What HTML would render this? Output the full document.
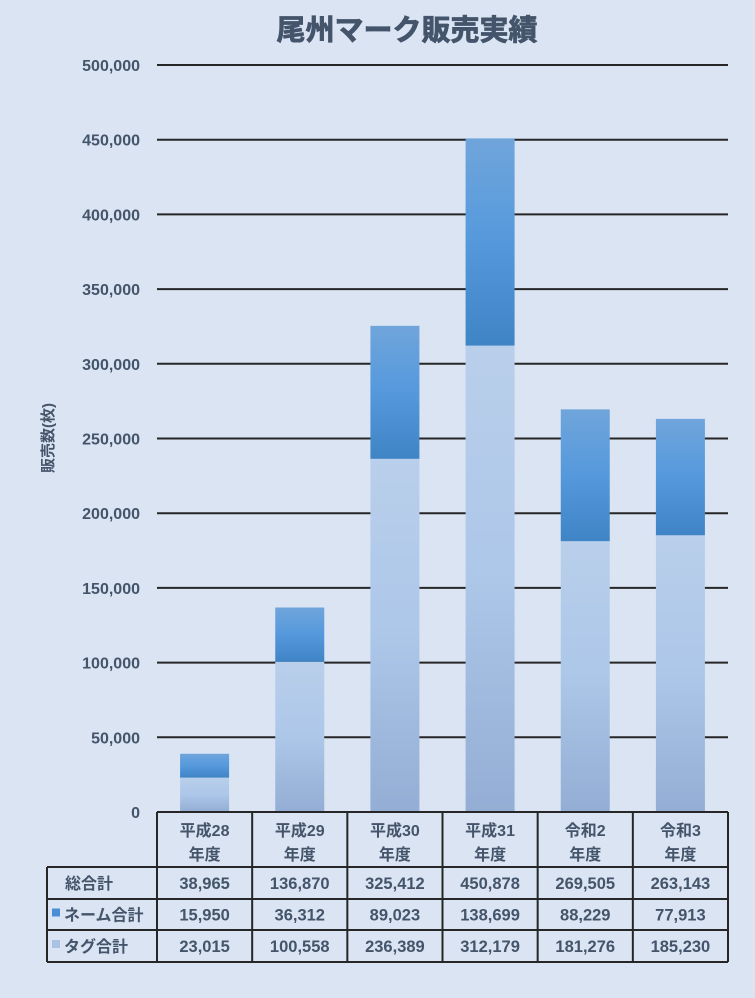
<!DOCTYPE html>
<html><head><meta charset="utf-8"><style>
html,body{margin:0;padding:0;background:#dae4f3;}
body{width:755px;height:993px;overflow:hidden;position:relative;font-family:"Liberation Sans","Noto Sans CJK JP",sans-serif;color:#44546a;}
svg text{font-family:"Liberation Sans","Noto Sans CJK JP",sans-serif;}
</style></head><body>
<svg id="chart" width="755" height="993" xmlns="http://www.w3.org/2000/svg">
<defs>
<linearGradient id="gName" x1="0" y1="0" x2="0" y2="1"><stop offset="0" stop-color="#70a5db"/><stop offset="0.5" stop-color="#5599dc"/><stop offset="1" stop-color="#3f84c5"/></linearGradient>
<linearGradient id="gTag" x1="0" y1="0" x2="0" y2="1"><stop offset="0" stop-color="#b9cfeb"/><stop offset="0.5" stop-color="#adc7e9"/><stop offset="1" stop-color="#93add4"/></linearGradient>
</defs>
<rect x="0" y="0" width="755" height="993" fill="#dae4f3"/>
<text x="407" y="40" text-anchor="middle" font-size="29" font-weight="bold" fill="#44546a" stroke="#44546a" stroke-width="0.8">尾州マーク販売実績</text>
<text transform="translate(53,438) rotate(-90)" text-anchor="middle" font-size="15" font-weight="bold" fill="#44546a">販売数(枚)</text>
<g id="grid"></g><g id="bars"></g><g id="table"></g>
</svg>
<script>
const categories1 = ["平成28","平成29","平成30","平成31","令和2","令和3"];
const categories2 = ["年度","年度","年度","年度","年度","年度"];
const nameTotals = [15950,36312,89023,138699,88229,77913];
const tagTotals = [23015,100558,236389,312179,181276,185230];
const grandTotals = [38965,136870,325412,450878,269505,263143];
const yTicks = [0,50000,100000,150000,200000,250000,300000,350000,400000,450000,500000];
const NS="http://www.w3.org/2000/svg";
const x0=157,x1=728,y0=812,y1=65,yMax=500000;
const bw=(x1-x0)/categories1.length;
const yS=v=>y0-(v/yMax)*(y0-y1);
const xC=i=>x0+bw*(i+0.5);
function mk(tag,attrs,parent,txt){const e=document.createElementNS(NS,tag);for(const k in attrs)e.setAttribute(k,attrs[k]);if(txt!==undefined)e.textContent=txt;parent.appendChild(e);return e;}
const fmt=v=>v.toLocaleString('en-US');
const grid=document.getElementById('grid');
yTicks.forEach(t=>{
  if(t>0){const l=mk('line',{x1:x0,x2:x1,y1:yS(t),y2:yS(t),stroke:'#262626','stroke-width':2},grid);
  
  }
  const tx=mk('text',{x:140,y:yS(t)+6,'text-anchor':'end','font-size':16,'font-weight':'bold',fill:'#44546a'},grid,fmt(t));
  
  
});
const bars=document.getElementById('bars');
categories1.forEach((c,i)=>{
  const w=49,x=xC(i)-w/2;
  const tTop=yS(tagTotals[i]);
  const r1=mk('rect',{x:x,y:tTop,width:w,height:y0-tTop,fill:'url(#gTag)'},bars);
  
  
  const nTop=yS(tagTotals[i]+nameTotals[i]);
  const r2=mk('rect',{x:x,y:nTop,width:w,height:tTop-nTop,fill:'url(#gName)'},bars);
  
  
});
const tb=document.getElementById('table');
const rows=[867,899,930,962];
const L=47;
function ln(a,b,c,d){const l=mk('line',{x1:a,y1:b,x2:c,y2:d,stroke:'#262626','stroke-width':2},tb);

}
ln(x0,y0,x1,y0);
for(let i=0;i<=categories1.length;i++)ln(x0+bw*i,y0,x0+bw*i,962);
ln(L,867,L,962);
rows.forEach(r=>ln(L,r,x1,r));
categories1.forEach((c,i)=>{
  const t1=mk('text',{x:xC(i),y:836,'text-anchor':'middle','font-size':16,'font-weight':'bold',fill:'#44546a'},tb,c);
  
  
  const t2=mk('text',{x:xC(i),y:860,'text-anchor':'middle','font-size':16,'font-weight':'bold',fill:'#44546a'},tb,categories2[i]);
  
  
});
const series=[["総合計",grandTotals,null],["ネーム合計",nameTotals,"#4a8fd6"],["タグ合計",tagTotals,"#a9c2e6"]];
series.forEach((s,r)=>{
  const cy=(rows[r]+rows[r+1])/2+6;
  if(s[2]){const k=mk('rect',{x:52,y:cy-12,width:8,height:8,fill:s[2]},tb);
  
  }
  const lt=mk('text',{x:s[2]?64:65,y:cy,'font-size':16,'font-weight':'bold',fill:'#44546a'},tb,s[0]);
  
  
  s[1].forEach((v,i)=>{
    const t=mk('text',{x:xC(i),y:cy,'text-anchor':'middle','font-size':16.5,'font-weight':'bold',fill:'#44546a'},tb,fmt(v));
    
    
  });
});
</script>
</body></html>
